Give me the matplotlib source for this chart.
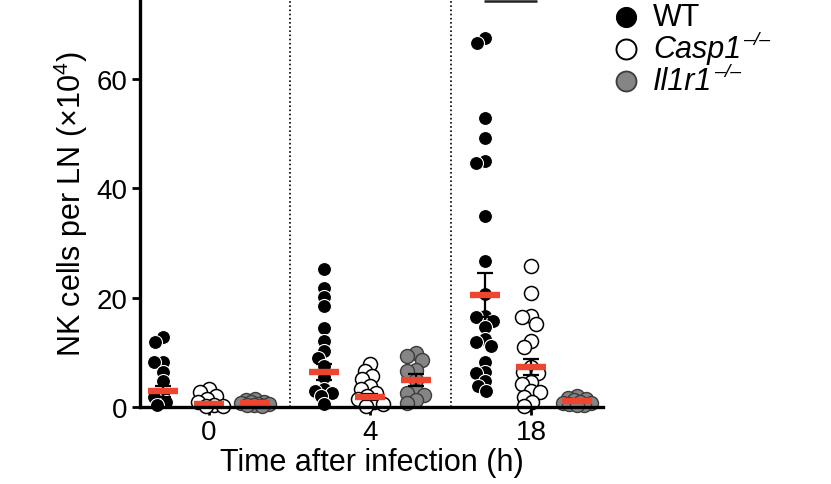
import numpy as np
import matplotlib
matplotlib.use("Agg")
import matplotlib.pyplot as plt

plt.rcParams['font.family'] = ['Liberation Sans', 'DejaVu Sans']
plt.rcParams['mathtext.fontset'] = 'custom'
plt.rcParams['mathtext.rm'] = 'Liberation Sans'
plt.rcParams['mathtext.it'] = 'Liberation Sans:italic'
plt.rcParams['mathtext.bf'] = 'Liberation Sans:bold'

# ---------------- data ----------------
time_labels = ["0", "4", "18"]
genotypes = ["WT", "Casp1", "Il1r1"]

wt_0 = [12.8, 11.9, 8.2, 8.2, 6.4, 4.8, 2.4, 1.8, 0.9, 0.3]
casp1_0 = [3.2, 2.8, 2.1, 1.5, 0.9, 0.4, 0.2, 0.1]
il1r1_0 = [1.4, 1.2, 1.0, 0.9, 0.7, 0.6, 0.5, 0.4, 0.3, 0.2]

wt_4 = [25.2, 21.8, 20.1, 18.5, 14.4, 12.1, 10.2, 9.0, 7.5, 5.5, 3.3, 2.9, 2.5, 2.0, 0.5]
casp1_4 = [7.9, 6.6, 5.6, 5.1, 3.8, 3.3, 2.6, 2.0, 1.4, 0.9, 0.5, 0.2]
il1r1_4 = [9.8, 9.3, 8.6, 6.8, 6.5, 5.0, 3.0, 2.6, 2.2, 1.2, 0.8]

wt_18 = [67.5, 66.6, 52.9, 49.2, 45.0, 44.6, 34.9, 26.7, 20.7, 16.6, 16.4, 15.7,
         14.6, 12.4, 11.9, 11.2, 8.2, 6.4, 6.2, 4.8, 3.8, 2.9]
casp1_18 = [25.8, 20.8, 16.6, 16.4, 15.2, 12.1, 11.0, 7.3, 6.4, 6.2, 4.6, 4.2,
            2.9, 2.7, 1.8, 0.9, 0.2]
il1r1_18 = [2.0, 1.6, 1.4, 1.2, 1.0, 0.8, 0.7, 0.5, 0.4, 0.3]

# means and SEM shown as red bars / error bars
wt_mean = [2.9, 6.4, 20.5]
wt_sem = [1.0, 1.4, 4.0]
casp1_mean = [0.6, 1.8, 7.3]
casp1_sem = [0.3, 0.5, 1.4]
il1r1_mean = [0.7, 4.9, 1.1]
il1r1_sem = [0.1, 1.1, 0.1]

series = {
    "WT": [wt_0, wt_4, wt_18],
    "Casp1": [casp1_0, casp1_4, casp1_18],
    "Il1r1": [il1r1_0, il1r1_4, il1r1_18],
}
means = {"WT": wt_mean, "Casp1": casp1_mean, "Il1r1": il1r1_mean}
sems = {"WT": wt_sem, "Casp1": casp1_sem, "Il1r1": il1r1_sem}

styles = {
    "WT": dict(facecolor="black", edgecolor="white", linewidth=0.8),
    "Casp1": dict(facecolor="white", edgecolor="black", linewidth=1.1),
    "Il1r1": dict(facecolor="#858585", edgecolor="#3c3c3c", linewidth=1.0),
}
legend_names = {"WT": ("WT", None), "Casp1": ("Casp1", "–/–"), "Il1r1": ("Il1r1", "–/–")}

# ---------------- figure ----------------
W, H = 831, 485
fig = plt.figure(figsize=(W / 100, H / 100), dpi=100)
ax = fig.add_axes([140 / W, 77 / H, (603 - 140) / W, 408 / H])
ax.set_xlim(-0.4286, 2.447)
ax.set_ylim(0, 74.6)

offset = 0.286
red = "#EE4530"
marker_px = 14.0
s_area = (marker_px * 72 / 100) ** 2


def swarm(vals, center, d_px, max_off=14.0):
    vals = np.asarray(vals, float)
    pts = ax.transData.transform(np.column_stack([np.full(len(vals), center), vals]))
    ys = pts[:, 1]
    ppu = ax.transData.transform((1, 0))[0] - ax.transData.transform((0, 0))[0]
    order = np.argsort(-ys)
    cands = np.arange(-max_off, max_off + 0.01, 1.0)
    cands = cands[np.argsort(np.abs(cands) + 0.01 * (cands > 0))]
    placed = []
    xs = np.zeros(len(vals))
    min_d = 0.62 * d_px
    for i in order:
        y = ys[i]
        best, best_score = 0.0, -1
        for off in cands:
            if not placed:
                best = off
                break
            dmin = min(np.hypot(off - px, y - py) for px, py in placed)
            if dmin >= min_d:
                best = off
                break
            if dmin > best_score + 0.5:
                best_score, best = dmin, off
        placed.append((best, y))
        xs[i] = best
    return center + xs / ppu


for gi, g in enumerate(genotypes):
    for ti in range(len(time_labels)):
        c = ti + (gi - 1) * offset
        vals = series[g][ti]
        xs = swarm(vals, c, marker_px)
        ax.scatter(xs, vals, s=s_area, zorder=3, clip_on=False, **styles[g])
    xc = np.arange(len(time_labels)) + (gi - 1) * offset
    ax.errorbar(xc, means[g], yerr=sems[g], fmt="none", ecolor="black",
                elinewidth=1.6, capsize=6, capthick=1.6, zorder=4)
    ax.hlines(means[g], xc - 0.095, xc + 0.095, colors=red, linewidth=4.6, zorder=5)

# dotted separators
for xsep in [0.5, 1.5]:
    ax.axvline(xsep, color="black", linestyle=(0, (1, 1.5)), linewidth=1.2, zorder=1)

# significance bar (clipped at the top)
ax.plot([2 - offset - 0.005, 2 + 0.035], [74.2, 74.2], color="#222222", linewidth=1.8,
        zorder=4, solid_capstyle="butt")

# axes styling
for side in ["top", "right"]:
    ax.spines[side].set_visible(False)
for side in ["left", "bottom"]:
    ax.spines[side].set_linewidth(2.4)
    ax.spines[side].set_zorder(6)
ax.set_yticks([0, 20, 40, 60])
ax.set_xticks(range(len(time_labels)))
ax.set_xticklabels(time_labels)
ax.tick_params(axis="both", labelsize=20, length=6, width=2.0, direction="out", colors="black")
ax.tick_params(axis="y", pad=3)
ax.tick_params(axis="x", pad=3)
ax.set_ylabel("NK cells per LN (×10$^{4}$)", fontsize=22, labelpad=5)
ax.set_xlabel("Time after infection (h)", fontsize=22, labelpad=1)

# legend (manual)
leg_x_marker = 626 / W
leg_x_text = 653 / W
leg_rows = [18, 50, 82]
for g, yr in zip(genotypes, leg_rows):
    yf = 1 - yr / H
    st = dict(styles[g])
    if g == "WT":
        st["edgecolor"] = "black"
        st["linewidth"] = 0.5
    fig.add_artist(plt.Line2D([leg_x_marker], [yf], marker="o", markersize=20 * 0.72,
                              markerfacecolor=st["facecolor"], markeredgecolor=st["edgecolor"],
                              markeredgewidth=st["linewidth"] + 0.3, linestyle="none",
                              transform=fig.transFigure))
    name, sup = legend_names[g]
    t = fig.text(leg_x_text, yf, name, fontsize=22, va="center", ha="left",
                 style="normal" if g == "WT" else "italic")
    if sup:
        fig.add_artist(plt.Annotation(sup, xy=(1.0, 1.0), xycoords=t,
                                      xytext=(1, -4), textcoords="offset points",
                                      fontsize=14, style="italic", va="center", ha="left"))

fig.savefig("out.png", dpi=100)
